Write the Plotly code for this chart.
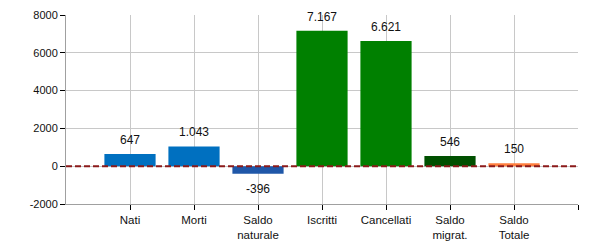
import plotly.graph_objects as go

categories = ["Nati", "Morti", "Saldo<br>naturale", "Iscritti", "Cancellati", "Saldo<br>migrat.", "Saldo<br>Totale"]
values = [647, 1043, -396, 7167, 6621, 546, 150]
colors = ["#0070C0", "#0070C0", "#1F57A8", "#008000", "#008000", "#005000", "#FF7F3F"]
y_ticks = [-2000, 0, 2000, 4000, 6000, 8000]


def fmt(v):
    s = f"{abs(v):,}".replace(",", ".")
    return ("-" if v < 0 else "") + s


xs = list(range(len(categories)))

fig = go.Figure()
fig.add_trace(go.Bar(
    x=xs, y=values, width=0.8,
    marker=dict(color=colors, line=dict(width=0)),
    hoverinfo="skip",
))

for x, v in zip(xs, values):
    fig.add_annotation(
        x=x, y=v, text=fmt(v), showarrow=False,
        yanchor="bottom" if v >= 0 else "top",
        yshift=5 if v >= 0 else -6,
        font=dict(family="Liberation Sans, Arial, sans-serif", size=12, color="#111"),
    )

fig.add_shape(type="line", xref="paper", x0=0, x1=1, yref="y", y0=0, y1=0,
              line=dict(color="#8B1A1A", width=2, dash="6px,3px"))

fig.update_layout(
    width=600, height=250,
    margin=dict(l=66, r=22, t=15, b=46),
    paper_bgcolor="white", plot_bgcolor="white",
    showlegend=False,
    font=dict(family="Liberation Sans, Arial, sans-serif", size=11, color="#111"),
)
fig.update_xaxes(
    range=[-1, 7], tickvals=xs + [7], ticktext=categories + [""],
    showgrid=True, gridcolor="#C8C8C8", gridwidth=1,
    showline=True, linecolor="#A0A0A0", linewidth=1,
    ticks="outside", ticklen=5, tickcolor="#000", zeroline=False,
    tickfont=dict(size=11.5), automargin=False,
)
fig.update_yaxes(
    range=[-2000, 8000], tickvals=y_ticks, ticktext=[str(t) for t in y_ticks],
    showgrid=True, gridcolor="#C8C8C8", gridwidth=1,
    showline=True, linecolor="#A0A0A0", linewidth=1,
    ticks="outside", ticklen=5, tickcolor="#000", zeroline=False,
    automargin=False,
)

fig.write_html("out.html")
